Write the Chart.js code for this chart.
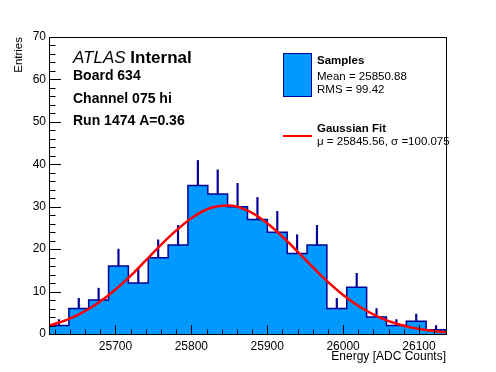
<!DOCTYPE html>
<html>
<head>
<meta charset="utf-8">
<script src="https://cdn.jsdelivr.net/npm/chart.js@4/dist/chart.umd.min.js"></script>
<style>
html,body{margin:0;padding:0;background:#fff;}
canvas{display:block;}
</style>
</head>
<body>
<canvas id="c" width="496" height="372"></canvas>
<script>
// ---- data ----
const binEdges = [25612.4, 25638.6, 25664.7, 25690.9, 25717.0, 25743.2, 25769.4, 25795.5, 25821.7, 25847.8,
                  25874.0, 25900.2, 25926.3, 25952.5, 25978.6, 26004.8, 26031.0, 26057.1, 26083.3, 26109.4, 26135.6];
const counts = [2, 6, 8, 16, 12, 18, 21, 35, 33, 30, 27, 24, 19, 21, 6, 11, 4, 2, 3, 1];
const errors = [1.4, 2.4, 2.8, 4.0, 3.5, 4.2, 4.6, 5.9, 5.7, 5.5, 5.2, 4.9, 4.4, 4.6, 2.4, 3.3, 2.0, 1.4, 1.7, 1.0];
const fitX = [25612, 25625, 25650, 25675, 25700, 25725, 25750, 25775, 25800, 25825, 25850, 25875,
              25900, 25925, 25950, 25975, 26000, 26025, 26050, 26075, 26100, 26125, 26136];
const fitY = [1.98, 2.66, 4.47, 7.07, 10.5, 14.6, 19.2, 23.6, 27.3, 29.7, 30.3, 29.0,
              26.1, 22.1, 17.6, 13.1, 9.2, 6.06, 3.75, 2.18, 1.19, 0.61, 0.45];
const xTickLabels = [25700, 25800, 25900, 26000, 26100];
const yTickLabels = [0, 10, 20, 30, 40, 50, 60, 70];
const xRange = [25612.4, 26135.6];
const yRange = [0, 70];
const labelLines = ['Board 634', 'Channel 075 hi', 'Run 1474 A=0.36'];
const legendSamples = ['Samples', 'Mean = 25850.88', 'RMS = 99.42'];
const legendFit = ['Gaussian Fit', '\u03bc = 25845.56, \u03c3 =100.075'];

// ---- styles ----
const FILL = 'rgb(0,153,255)';
const EDGE = 'rgb(0,0,153)';
const FONT = '"Liberation Sans", Arial, Helvetica, sans-serif';

const histPoints = binEdges.map((e, i) => ({x: e, y: counts[Math.min(i, counts.length - 1)]}));
const errPoints = counts.map((c, i) => ({x: (binEdges[i] + binEdges[i + 1]) / 2, y: [c, c + errors[i]]}));
const fitPoints = fitX.map((x, i) => ({x: x, y: fitY[i]}));

const framePlugin = {
  id: 'frame',
  afterDatasetsDraw(chart) {
    const {ctx, chartArea: a, scales: {x, y}} = chart;
    ctx.save();
    ctx.strokeStyle = '#000';
    ctx.lineWidth = 1;
    ctx.beginPath();
    for (let v = yRange[0]; v <= yRange[1]; v += 2) {
      const py = Math.round(y.getPixelForValue(v)) + 0.5;
      const len = (v % 10 === 0) ? 12 : 6.5;
      ctx.moveTo(a.left, py); ctx.lineTo(a.left + len, py);
    }
    for (let v = 25620; v <= xRange[1]; v += 20) {
      const px = Math.round(x.getPixelForValue(v)) + 0.5;
      const len = (v % 100 === 0) ? 9 : 4.5;
      ctx.moveTo(px, a.bottom); ctx.lineTo(px, a.bottom - len);
    }
    ctx.stroke();
    ctx.strokeRect(a.left + 0.5, a.top + 0.5, a.right - a.left, a.bottom - a.top);
    ctx.restore();
  },
  afterDraw(chart) {
    const {ctx} = chart;
    ctx.save();
    ctx.fillStyle = '#000';
    ctx.textBaseline = 'alphabetic';
    ctx.textAlign = 'left';
    ctx.font = 'italic 17px ' + FONT;
    ctx.fillText('ATLAS', 73, 63);
    const w = ctx.measureText('ATLAS ').width;
    ctx.font = 'bold 17px ' + FONT;
    ctx.fillText('Internal', 73 + w, 63);
    ctx.font = 'bold 14px ' + FONT;
    labelLines.forEach((t, i) => ctx.fillText(t, 73, 80 + i * 22.5));
    ctx.fillStyle = FILL;
    ctx.fillRect(283.5, 53.5, 28, 43);
    ctx.strokeStyle = EDGE;
    ctx.lineWidth = 1;
    ctx.strokeRect(283.5, 53.5, 28, 43);
    ctx.strokeStyle = 'rgb(255,0,0)';
    ctx.lineWidth = 2;
    ctx.beginPath(); ctx.moveTo(283, 136); ctx.lineTo(312, 136); ctx.stroke();
    ctx.fillStyle = '#000';
    ctx.textBaseline = 'middle';
    ctx.font = 'bold 11.5px ' + FONT;
    ctx.fillText(legendSamples[0], 317, 61);
    ctx.font = '11.5px ' + FONT;
    ctx.fillText(legendSamples[1], 317, 76.5);
    ctx.fillText(legendSamples[2], 317, 90);
    ctx.font = 'bold 11.5px ' + FONT;
    ctx.fillText(legendFit[0], 317, 129);
    ctx.font = '11.5px ' + FONT;
    ctx.fillText(legendFit[1], 317, 142);
    ctx.restore();
  }
};

new Chart(document.getElementById('c'), {
  type: 'line',
  data: {
    datasets: [
      {
        label: 'Gaussian Fit', data: fitPoints, type: 'line', order: 1,
        borderColor: 'rgb(255,0,0)', borderWidth: 2.5, pointRadius: 0, tension: 0.4,
        cubicInterpolationMode: 'monotone', fill: false
      },
      {
        label: 'errors', data: errPoints, type: 'bar', order: 2,
        backgroundColor: EDGE, borderWidth: 0, barThickness: 1.5
      },
      {
        label: 'Samples', data: histPoints, type: 'line', order: 3,
        stepped: true, fill: 'origin', backgroundColor: FILL, borderColor: EDGE,
        borderWidth: 1.5, pointRadius: 0, tension: 0
      }
    ]
  },
  options: {
    responsive: false,
    devicePixelRatio: 1,
    animation: false,
    events: [],
    layout: {padding: {left: 0, top: 37, right: 50, bottom: 0}},
    plugins: {legend: {display: false}, tooltip: {enabled: false}},
    scales: {
      x: {
        type: 'linear', min: xRange[0], max: xRange[1], offset: false,
        grid: {display: false, drawTicks: false, offset: false},
        border: {display: false},
        afterFit(s) { s.height = 38; },
        afterBuildTicks(s) { s.ticks = xTickLabels.map(v => ({value: v})); },
        ticks: {padding: 5, maxRotation: 0, autoSkip: false, color: '#000',
                font: {family: FONT, size: 12}, callback: v => String(v)},
        title: {display: true, text: 'Energy [ADC Counts]', align: 'end', color: '#000',
                font: {family: FONT, size: 12}, padding: {top: 0, bottom: 8}}
      },
      y: {
        type: 'linear', min: yRange[0], max: yRange[1],
        grid: {display: false, drawTicks: false},
        border: {display: false},
        afterFit(s) { s.width = 49; },
        afterBuildTicks(s) { s.ticks = yTickLabels.map(v => ({value: v})); },
        ticks: {padding: 3, color: '#000', font: {family: FONT, size: 12}, callback: v => String(v)},
        title: {display: true, text: 'Entries', align: 'end', color: '#000',
                font: {family: FONT, size: 11.5}, padding: {top: 12, bottom: 0}}
      }
    }
  },
  plugins: [framePlugin]
});
</script>
</body>
</html>
